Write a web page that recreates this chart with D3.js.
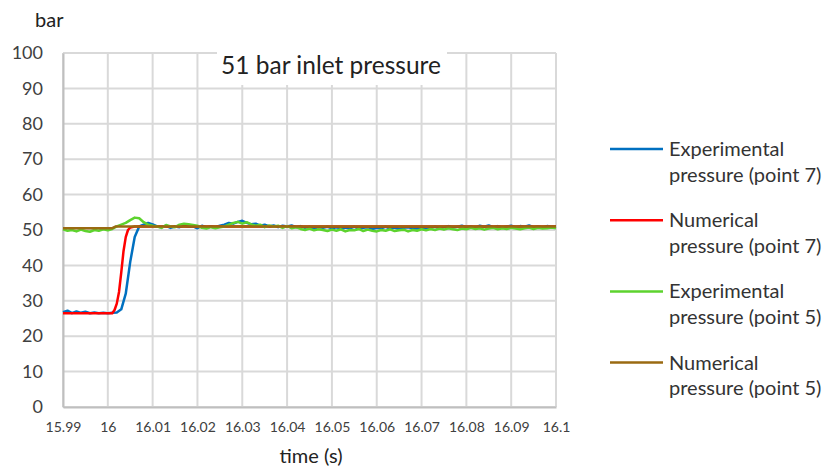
<!DOCTYPE html>
<html><head><meta charset="utf-8">
<script src="https://cdn.jsdelivr.net/npm/d3@7"></script>
<style>
html,body{margin:0;padding:0;background:#fff;}
svg{display:block;font-family:Lato,"Open Sans",sans-serif;}
</style></head>
<body>
<svg id="chart" width="825" height="469"></svg>
<script>
// ---------- DATA ----------
const xTickValues = [15.99,16.00,16.01,16.02,16.03,16.04,16.05,16.06,16.07,16.08,16.09,16.10];
const xTickLabels = ["15.99","16","16.01","16.02","16.03","16.04","16.05","16.06","16.07","16.08","16.09","16.1"];
const yTickValues = [0,10,20,30,40,50,60,70,80,90,100];
const seriesNames = ["Experimental\npressure (point 7)","Numerical\npressure (point 7)","Experimental\npressure (point 5)","Numerical\npressure (point 5)"];
const seriesColors = ["#0070C0","#FF0000","#5DD32E","#9A6A12"];

// experimental sample times (s)
const expTime = [
15.990,15.991,15.992,15.993,15.994,15.995,15.996,15.997,15.998,15.999,
16.000,16.001,16.002,16.003,16.004,16.005,16.006,16.007,16.008,16.009,
16.010,16.011,16.012,16.013,16.014,16.015,16.016,16.017,16.018,16.019,
16.020,16.021,16.022,16.023,16.024,16.025,16.026,16.027,16.028,16.029,
16.030,16.031,16.032,16.033,16.034,16.035,16.036,16.037,16.038,16.039,
16.040,16.041,16.042,16.043,16.044,16.045,16.046,16.047,16.048,16.049,
16.050,16.051,16.052,16.053,16.054,16.055,16.056,16.057,16.058,16.059,
16.060,16.061,16.062,16.063,16.064,16.065,16.066,16.067,16.068,16.069,
16.070,16.071,16.072,16.073,16.074,16.075,16.076,16.077,16.078,16.079,
16.080,16.081,16.082,16.083,16.084,16.085,16.086,16.087,16.088,16.089,
16.090,16.091,16.092,16.093,16.094,16.095,16.096,16.097,16.098,16.099,16.100];

const expP7 = [
26.8,27.2,26.5,27.0,26.6,26.9,26.5,26.7,26.5,26.6,
26.5,26.6,26.7,27.6,32.0,41.0,48.0,51.0,51.5,52.0,
51.6,51.0,50.8,51.2,50.6,51.0,50.8,51.2,50.9,51.0,
50.5,51.2,50.7,51.0,50.8,51.2,51.5,52.0,51.8,52.3,
52.6,52.0,51.6,51.8,51.2,51.5,51.0,51.3,50.8,51.2,
51.0,51.3,50.8,51.1,50.6,50.9,50.4,50.8,50.6,50.9,
50.5,50.8,50.3,50.7,50.5,50.9,50.4,50.6,50.8,50.3,
50.6,50.5,50.9,50.4,50.7,50.3,50.6,50.8,50.5,50.4,
50.7,50.3,50.6,50.9,50.5,50.8,51.1,50.7,50.9,51.2,
50.8,51.0,50.6,51.2,50.9,51.3,50.8,51.1,50.7,51.0,
51.2,50.8,51.1,50.9,51.3,50.8,51.0,50.7,51.1,50.9,51.0];

const expP5 = [
50.2,49.8,50.0,49.6,50.1,49.7,49.5,50.0,49.8,50.2,
49.9,50.3,51.0,51.5,52.0,52.8,53.5,53.3,52.2,51.5,
51.2,51.0,50.6,51.4,51.0,50.8,51.5,51.8,51.6,51.4,
51.2,50.6,50.4,50.8,50.5,50.8,51.0,51.5,52.0,52.3,
51.8,52.2,51.6,51.2,51.5,50.8,51.3,51.0,51.2,50.6,
51.1,50.5,50.8,50.3,50.0,50.4,49.9,50.2,50.0,49.7,
50.1,49.8,50.2,49.6,50.0,49.9,50.3,49.7,50.1,49.8,
49.6,50.0,49.8,50.2,49.7,49.9,50.1,49.6,50.0,49.8,
50.2,49.9,50.3,50.0,50.4,50.1,50.5,50.2,50.0,50.4,
50.2,50.6,50.3,50.5,50.1,50.4,50.6,50.2,50.5,50.3,
50.6,50.4,50.2,50.5,50.7,50.3,50.6,50.4,50.5,50.7,50.5];

const numTime7 = [15.990,16.0010,16.0015,16.0020,16.0025,16.0030,16.0035,16.0040,16.0045,16.0050,16.0060,16.0100,16.1000];
const numP7    = [26.5,  26.5,   27.4,   29.2,   32.5,   38.0,   44.0,   48.0,   50.0,   50.7,   51.0,   51.0,   51.0];

const numTime5 = [15.990,16.0010,16.0018,16.1000];
const numP5    = [50.5,  50.5,   51.0,   51.0];

// ---------- LAYOUT ----------
const svg = d3.select("#chart");
const L = 63, R = 556, T = 53, B = 407;
const x = d3.scaleLinear().domain([15.99,16.10]).range([L,R]);
const y = d3.scaleLinear().domain([0,100]).range([B,T]);

const gridColor = "#d9d9d9";

// gridlines
svg.append("g").selectAll("line.h").data(yTickValues).join("line")
  .attr("x1",L).attr("x2",R).attr("y1",d=>y(d)).attr("y2",d=>y(d))
  .attr("stroke",gridColor).attr("stroke-width",2);
svg.append("g").selectAll("line.v").data(xTickValues).join("line")
  .attr("x1",d=>x(d)).attr("x2",d=>x(d)).attr("y1",T).attr("y2",B)
  .attr("stroke",gridColor).attr("stroke-width",2);

// axes
const xAxis = d3.axisBottom(x).tickValues(xTickValues)
  .tickFormat((d,i)=>xTickLabels[i]).tickSize(0).tickPadding(15);
const gx = svg.append("g").attr("transform",`translate(0,${B})`).call(xAxis);
gx.select(".domain").attr("stroke","#bfbfbf").attr("stroke-width",2);
gx.selectAll("text").attr("font-family","Lato, sans-serif").attr("font-size",14).attr("fill","#404040");

const yAxis = d3.axisLeft(y).tickValues(yTickValues).tickSize(0).tickPadding(20);
const gy = svg.append("g").attr("transform",`translate(${L},0)`).call(yAxis);
gy.select(".domain").attr("stroke","#bfbfbf").attr("stroke-width",2);
gy.selectAll("text").attr("font-family","Lato, sans-serif").attr("font-size",18).attr("fill","#404040");

// series
const line = d3.line().x(d=>x(d[0])).y(d=>y(d[1]));
const series = [
  d3.zip(expTime, expP7),
  d3.zip(numTime7, numP7),
  d3.zip(expTime, expP5),
  d3.zip(numTime5, numP5)
];
svg.append("g").selectAll("path").data(series).join("path")
  .attr("d",line).attr("fill","none")
  .attr("stroke",(d,i)=>seriesColors[i]).attr("stroke-width",2.5)
  .attr("stroke-linejoin","round");

// title with white box
const titleG = svg.append("g");
titleG.append("rect").attr("x",217).attr("y",T-3).attr("width",230).attr("height",35).attr("fill","#fff");
titleG.append("text").attr("x",331).attr("y",74).attr("text-anchor","middle")
  .attr("font-size",24.5).attr("fill","#222").text("51 bar inlet pressure");

// axis titles
svg.append("text").attr("x",35).attr("y",27).attr("font-size",20).attr("fill","#222").text("bar");
svg.append("text").attr("x",311).attr("y",463).attr("text-anchor","middle")
  .attr("font-size",20).attr("fill","#222").text("time (s)");

// legend
const leg = svg.append("g").selectAll("g").data(seriesNames).join("g")
  .attr("transform",(d,i)=>`translate(610,${149 + i*71.2})`);
leg.append("line").attr("x1",0).attr("x2",53).attr("y1",0).attr("y2",0)
  .attr("stroke",(d,i)=>seriesColors[i]).attr("stroke-width",2.5);
leg.append("text").attr("x",59).attr("y",7).attr("font-size",20).attr("fill","#333")
  .selectAll("tspan").data(d=>d.split("\n")).join("tspan")
  .attr("x",59).attr("dy",(d,i)=>i===0?0:25.5).text(d=>d);
</script>
</body></html>
